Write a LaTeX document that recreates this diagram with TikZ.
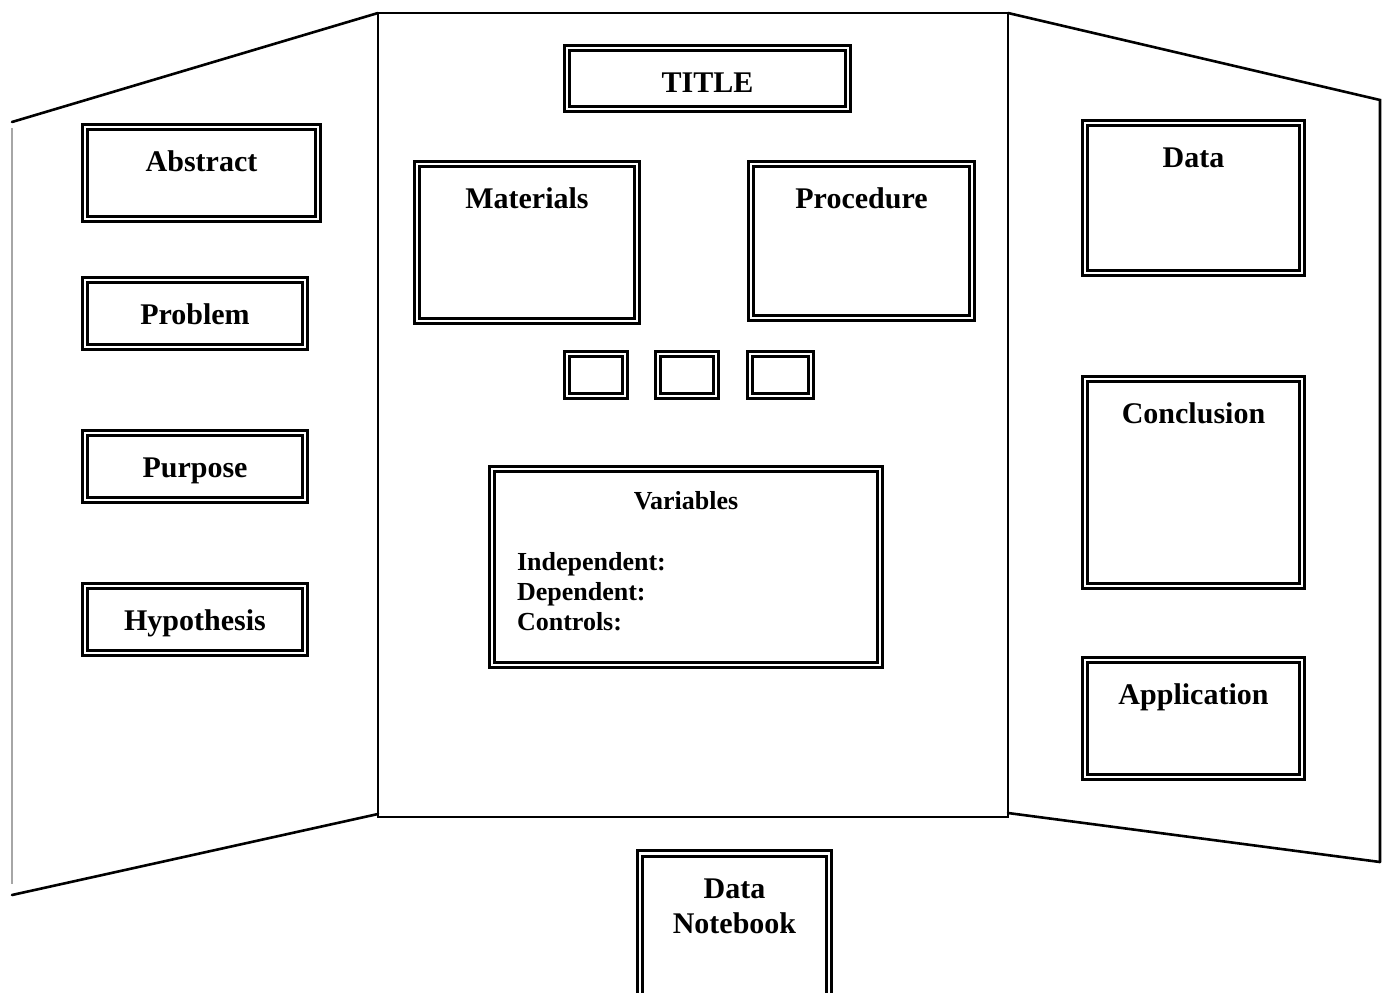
\documentclass[tikz,border=0pt]{standalone}
\usepackage{fontspec}
\setmainfont{Liberation Serif}
\usetikzlibrary{positioning}

\begin{document}
\begin{tikzpicture}[x=1pt,y=-1pt,
   edge/.style={line width=2.6pt, line cap=round},
   frame/.style={draw, line width=3pt, double=white, double distance=2.2pt, inner sep=0pt},
   lbl/.style={anchor=base, yshift=-#1, font=\fontsize{30}{32}\selectfont\bfseries},
   var/.style={anchor=base west, xshift=23pt, yshift=-#1, font=\fontsize{26}{28}\selectfont\bfseries}]
   \useasboundingbox (0,0) rectangle (1387,993);
   \clip (0,0) rectangle (1387,993);
   % the three panels of the board
   \draw[line width=1.8pt] (378,13) rectangle (1008,817);
   \draw[edge] (12,122) -- (378,13);
   \draw[edge] (12,895) -- (378,814);
   \draw[gray!70, line width=2.6pt] (12,128) -- (12,884);
   \draw[edge] (1008,13) -- (1380,100) -- (1380,862);
   \draw[edge] (1008,813) -- (1380,862);
   % left panel
   \node[frame, minimum width=233, minimum height=92, label={[lbl=46]north:Abstract}] (abstract) at (201.5,173) {};
   \node[frame, minimum width=220, minimum height=67, label={[lbl=46]north:Problem}] (problem) at (195,313.5) {};
   \node[frame, minimum width=220, minimum height=67, label={[lbl=46]north:Purpose}] (purpose) at (195,466.5) {};
   \node[frame, minimum width=220, minimum height=67, label={[lbl=46]north:Hypothesis}] (hypothesis) at (195,619.5) {};
   % middle panel
   \node[frame, minimum width=281, minimum height=61, label={[lbl=46]north:TITLE}] (title) at (707.5,78.5) {};
   \node[frame, minimum width=220, minimum height=157, label={[lbl=46]north:Materials}] (materials) at (527,242.5) {};
   \node[frame, minimum width=221, minimum height=154, label={[lbl=46]north:Procedure}] (procedure) at (861.5,241) {};
   \node[frame, minimum width=58, minimum height=42] (photoa) at (596,375) {};
   \node[frame, minimum width=58, minimum height=42] (photob) at (687,375) {};
   \node[frame, minimum width=61, minimum height=42] (photoc) at (780.5,375) {};
   \node[frame, minimum width=388, minimum height=196,
         label={[lbl=42, font=\fontsize{26}{28}\selectfont\bfseries]north:Variables},
         label={[var=103]north west:Independent:},
         label={[var=133]north west:Dependent:},
         label={[var=163]north west:Controls:}] (variables) at (686,567) {};
   % right panel
   \node[frame, minimum width=217, minimum height=150, label={[lbl=46]north:Data}] (data) at (1193.5,198) {};
   \node[frame, minimum width=217, minimum height=207, label={[lbl=46]north:Conclusion}] (conclusion) at (1193.5,482.5) {};
   \node[frame, minimum width=217, minimum height=117, label={[lbl=46]north:Application}] (application) at (1193.5,718.5) {};
   % in front of the board
   \node[frame, minimum width=189, minimum height=153,
         label={[lbl=46]north:Data}, label={[lbl=81]north:Notebook}] (notebook) at (734.5,930) {};
\end{tikzpicture}
\end{document}
